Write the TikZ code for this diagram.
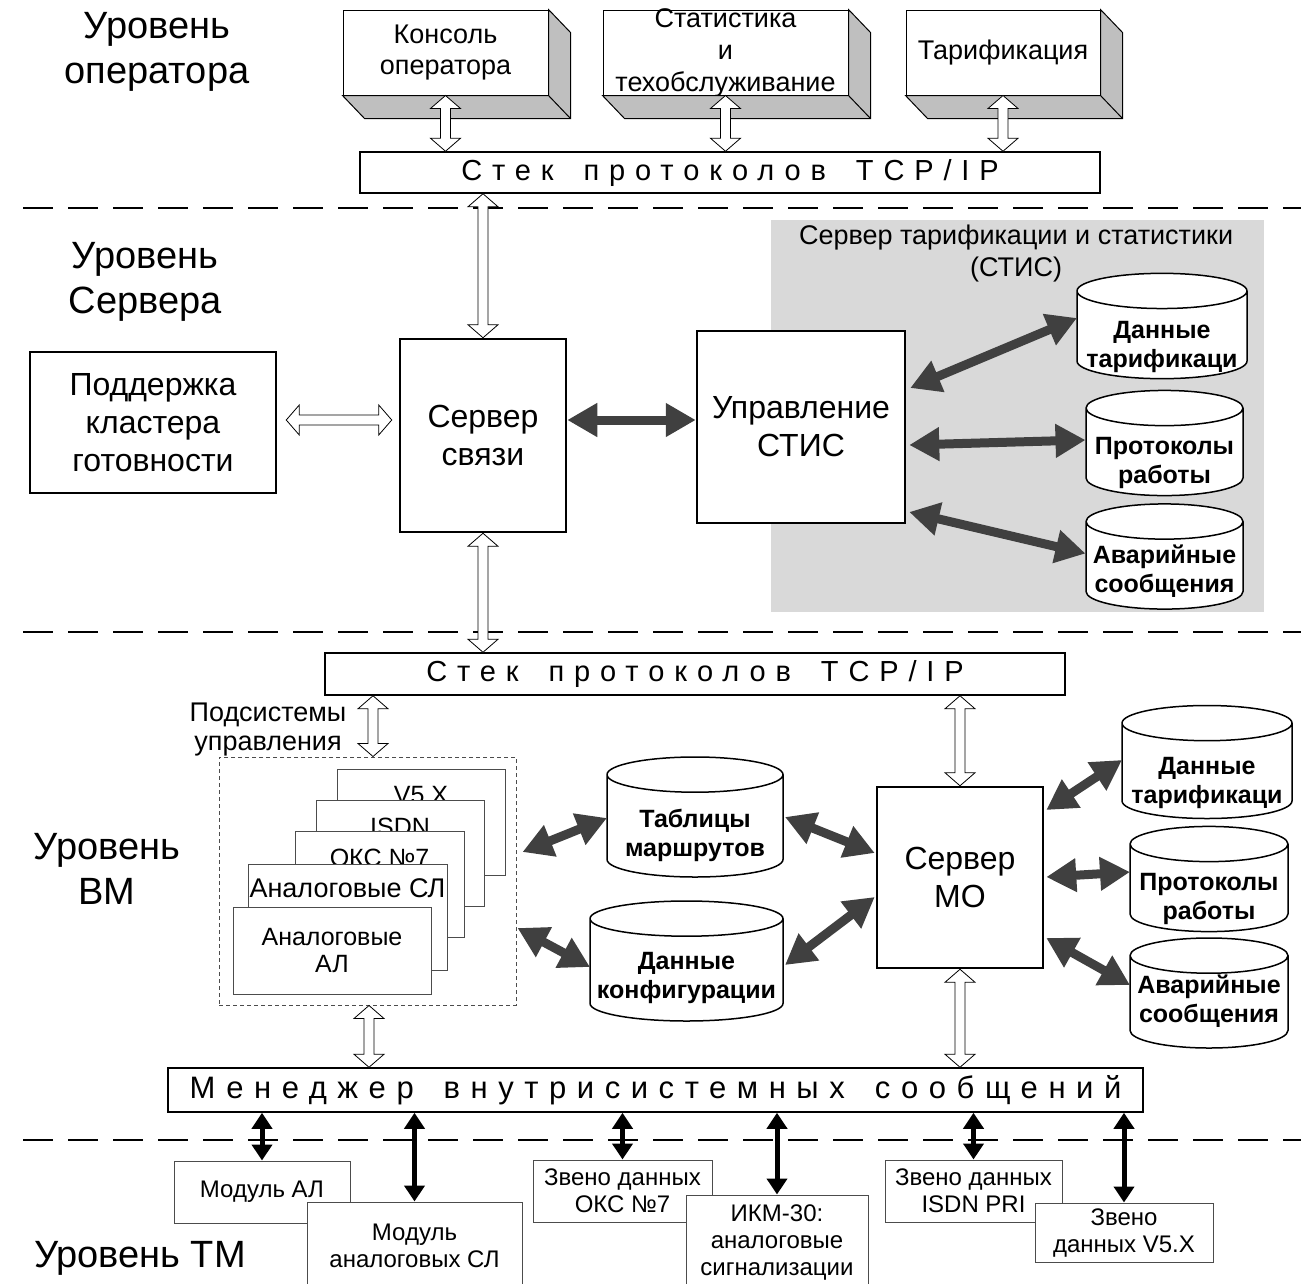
\documentclass[tikz,border=0pt]{standalone}
\usepackage{fontspec}
\setmainfont{Liberation Sans}
\newfontfamily\spacedfont[LetterSpace=34]{Liberation Sans}
\usetikzlibrary{arrows.meta, calc, shapes.geometric}

\begin{document}
\begin{tikzpicture}[x=1pt, y=-1pt,
  blk/.style={rectangle, draw, line width=2.5pt, fill=white, align=center, font=\fontsize{32}{38}\selectfont},
  solid3d/.style={rectangle, draw, line width=1pt, fill=white, align=center, inner sep=0pt, font=\fontsize{27}{31}\selectfont},
  stack/.style={rectangle, draw, line width=1.5pt, fill=white, font=\spacedfont\fontsize{29}{32}\selectfont},
  card/.style={rectangle, draw=black!70, line width=1pt, fill=white},
  cardtxt/.style={align=center, font=\fontsize{25}{27}\selectfont},
  tmbox/.style={rectangle, draw=black!70, line width=1pt, fill=white, align=center, font=\fontsize{24}{27}\selectfont},
  db/.style={cylinder, draw, line width=1.5pt, fill=white, shape border rotate=90, aspect=0.24, anchor=shape center},
  dbtxt/.style={align=center, font=\bfseries\fontsize{25}{29}\selectfont},
  levellbl/.style={align=center, font=\fontsize{38}{45}\selectfont},
  divider/.style={line width=1.5pt, dash pattern=on 30pt off 15pt},
  hollow/.style={draw, line width=0.8pt, fill=white, to path={
    -- ($(\tikztostart)!13pt!(\tikztotarget)!15pt!90:(\tikztotarget)$)
    -- ($(\tikztostart)!13pt!(\tikztotarget)!5pt!90:(\tikztotarget)$)
    -- ($(\tikztotarget)!13pt!(\tikztostart)!5pt!-90:(\tikztostart)$)
    -- ($(\tikztotarget)!13pt!(\tikztostart)!15pt!-90:(\tikztostart)$)
    -- (\tikztotarget)
    -- ($(\tikztotarget)!13pt!(\tikztostart)!15pt!90:(\tikztostart)$)
    -- ($(\tikztotarget)!13pt!(\tikztostart)!5pt!90:(\tikztostart)$)
    -- ($(\tikztostart)!13pt!(\tikztotarget)!5pt!-90:(\tikztotarget)$)
    -- ($(\tikztostart)!13pt!(\tikztotarget)!15pt!-90:(\tikztotarget)$)
    -- cycle}},
  dark/.style={line width=9pt, draw=black!75, {Triangle[length=30pt,width=32pt]}-{Triangle[length=30pt,width=32pt]}},
  link/.style={line width=5pt, draw=black, {Triangle[length=16pt,width=20pt]}-{Triangle[length=16pt,width=20pt]}}
]
\useasboundingbox (0,0) rectangle (1301,1283);
\newcommand\dbgap{\rule{140pt}{0pt}\rule{0pt}{50pt}}

% Operator level
\node[levellbl] (lop) at (157,52) {Уровень\\оператора};
\node[solid3d, minimum width=205, minimum height=85] (con) at (445.5,52.5) {Консоль\\оператора};
\node[solid3d, minimum width=245, minimum height=85,
  label={[align=center, font=\fontsize{27}{32}\selectfont]center:{Статистика\\и\\техобслуживание}}] (stat) at (725.5,52.5) {};
\node[solid3d, minimum width=194, minimum height=85] (tarif) at (1003,52.5) {Тарификация};
\foreach \bx in {con,stat,tarif} {
  \filldraw[fill=black!25, line width=1pt] (\bx.south west) -- ++(22,23) -| ($(\bx.north east)+(22,23)$) -- (\bx.north east) -- (\bx.south east) -- cycle;
  \draw[line width=1pt] (\bx.south east) -- ++(22,23);
}
\node[stack, minimum width=740, minimum height=41] (tcp1) at (730,172.5) {Стек\hspace{30pt}протоколов\hspace{30pt}TCP/IP};
\foreach \bx in {con,stat,tarif}
  \draw[hollow] (\bx.south) to (\bx.south |- tcp1.north);

% Dividers
\draw[divider] (23,208) -- (1301,208);
\draw[divider] (23,632) -- (1301,632);
\draw[divider] (23,1140) -- (1301,1140);

% Server level
\fill[black!15] (771,220) rectangle (1264,612);
\node[align=center, font=\fontsize{27}{32}\selectfont] (stistitle) at (1016,254) {Сервер тарификации и статистики\\(СТИС)};
\node[levellbl] (lsrv) at (145,282) {Уровень\\Сервера};
\node[blk, minimum width=246, minimum height=141] (pod) at (153,422.5) {Поддержка\\кластера\\готовности};
\node[blk, minimum width=166, minimum height=193] (srv) at (483,435.5) {Сервер\\связи};
\node[blk, minimum width=208, minimum height=192] (ctl) at (801,427) {Управление\\СТИС};
\node[db, minimum width=170, minimum height=102] (dtar) at (1162,326) {\dbgap};
\node[db, minimum width=157, minimum height=100] (dprot) at (1164.5,443) {\dbgap};
\node[db, minimum width=157, minimum height=97] (dalarm) at (1164.5,556.5) {\dbgap};

\coordinate (podR) at ($(pod.east)+(9,-2.5)$);
\coordinate (srvL) at ($(srv.west)+(-7,-15.5)$);
\coordinate (srvR) at ($(srv.east)+(0,-15.5)$);
\draw[hollow] (srv.north |- tcp1.south) to (srv.north);
\draw[hollow] (podR) to (srvL);
\draw[dark] (srvR) -- (srvR -| ctl.west);
\draw[dark] ($(ctl.east)+(4,-39)$) -- ($(dtar.shape center)+(-85,-8)$);
\draw[dark] ($(ctl.east)+(3,18)$) -- ($(dprot.shape center)+(-79,-3)$);
\draw[dark] ($(ctl.east)+(3,85)$) -- ($(dalarm.shape center)+(-79,-3)$);

% VM level
\node[stack, minimum width=740, minimum height=42] (tcp2) at (695,674) {Стек\hspace{30pt}протоколов\hspace{30pt}TCP/IP};
\draw[hollow] (srv.south) to (srv.south |- tcp2.north);
\node[align=center, font=\fontsize{27}{29}\selectfont] (subt) at (268,730) {Подсистемы\\управления};
\node[levellbl] (lvm) at (107,869) {Уровень\\ВМ};
\node[draw=black!70, line width=1pt, dash pattern=on 4pt off 3pt, minimum width=297, minimum height=248] (sub) at (367.5,881) {};
\foreach \c/\cx/\cy/\w/\t in {v5/421/822/168/V5.X, isdn/400/853/168/ISDN, oks/379.5/884.5/169/ОКС №7} {
  \node[card, minimum width=\w, minimum height=106] (c\c) at (\cx,\cy) {};
  \node[cardtxt] (t\c) at ($(c\c.north)+(0,27)$) {\t};
}
\node[card, minimum width=199, minimum height=106] (casl) at (347.5,917) {};
\node[cardtxt, font=\fontsize{27}{27}\selectfont] (tasl) at ($(casl.north)+(0,25)$) {Аналоговые СЛ};
\node[card, cardtxt, minimum width=198, minimum height=87] (cal) at (332,950.5) {Аналоговые\\АЛ};

\node[db, minimum width=176, minimum height=120] (tab) at (695,817) {\dbgap};
\node[db, minimum width=193, minimum height=120] (cfg) at (686.5,961) {\dbgap};
\node[blk, minimum width=166, minimum height=181] (mo) at (960,877.5) {Сервер\\МО};
\node[db, minimum width=170, minimum height=113] (vtar) at (1207,762) {\dbgap};
\node[db, minimum width=158, minimum height=105] (vprot) at (1209,879) {\dbgap};
\node[db, minimum width=158, minimum height=110] (valarm) at (1209,993) {\dbgap};

% database texts
\foreach \d/\dy/\t in {dtar/21/{Данные\\тарификаци}, dprot/20/{Протоколы\\работы}, dalarm/15/{Аварийные\\сообщения},
    tab/18/{Таблицы\\маршрутов}, cfg/17/{Данные\\конфигурации},
    vtar/21/{Данные\\тарификаци}, vprot/20/{Протоколы\\работы}, valarm/8/{Аварийные\\сообщения}}
  \node[dbtxt] (\d-t) at ($(\d.shape center)+(0,\dy)$) {\t};

\node[stack, font=\spacedfont\fontsize{31}{34}\selectfont, minimum width=975, minimum height=44] (mgr) at (655.5,1090) {Менеджер\hspace{30pt}внутрисистемных\hspace{30pt}сообщений};

\coordinate (subIn) at ($(sub.north |- tcp2.south)+(5.5,0)$);
\coordinate (subTop) at ($(sub.north)+(5.5,0)$);
\coordinate (subBot) at ($(sub.south)+(1.5,0)$);
\draw[hollow] (subIn) to (subTop);
\draw[hollow] (subBot) to (subBot |- mgr.north);
\draw[hollow] (mo.north |- tcp2.south) to (mo.north);
\draw[hollow] (mo.south) to (mo.south |- mgr.north);

\draw[dark] ($(sub.east)+(6,-29)$) -- ($(tab.shape center)+(-88,1)$);
\draw[dark] ($(sub.east)+(1,47)$) -- ($(cfg.shape center)+(-96.5,6)$);
\draw[dark] ($(tab.shape center)+(90,0)$) -- ($(mo.west)+(-1,-24.5)$);
\draw[dark] ($(cfg.shape center)+(98.5,4)$) -- ($(mo.west)+(-1,19.5)$);
\draw[dark] ($(mo.east)+(2,-67.5)$) -- ($(vtar.shape center)+(-85,-2)$);
\draw[dark] ($(mo.east)+(2,-0.5)$) -- ($(vprot.shape center)+(-79,-7)$);
\draw[dark] ($(mo.east)+(2,60.5)$) -- ($(valarm.shape center)+(-79,-8)$);

% TM level
\node[levellbl] (ltm) at (140,1258) {Уровень ТМ};
\node[tmbox, minimum width=176, minimum height=62] (al) at (262,1192) {Модуль АЛ};
\node[tmbox, minimum width=215, minimum height=88] (asl) at (414.5,1246) {Модуль\\аналоговых СЛ};
\node[tmbox, minimum width=179, minimum height=62] (oks) at (622.5,1191) {Звено данных\\ОКС №7};
\node[tmbox, minimum width=182, minimum height=95] (ikm) at (777,1242.5) {ИКМ-30:\\аналоговые\\сигнализации};
\node[tmbox, minimum width=177, minimum height=62] (isdn) at (973.5,1191) {Звено данных\\ISDN PRI};
\node[tmbox, minimum width=178, minimum height=59] (v5) at (1124,1232.5) {Звено\\данных V5.X};
\foreach \bx in {al,asl,oks,ikm,isdn,v5}
  \draw[link] (\bx.north |- mgr.south) -- (\bx.north);
\end{tikzpicture}
\end{document}
